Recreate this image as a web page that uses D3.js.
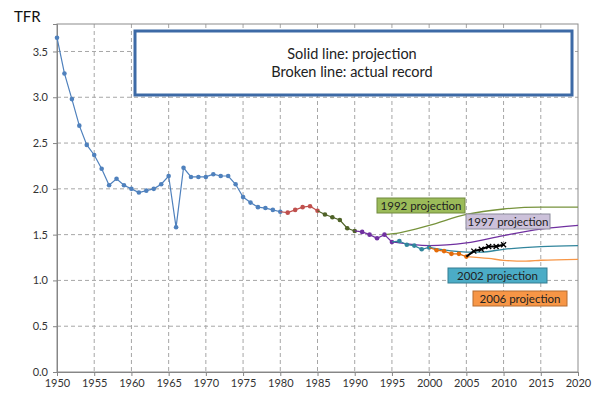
<!DOCTYPE html>
<html>
<head>
<meta charset="utf-8">
<script src="https://cdn.jsdelivr.net/npm/d3@7"></script>
<style>
  body { margin: 0; background: #fff; }
  svg { font-family: Lato, "Open Sans", sans-serif; }
</style>
</head>
<body>
<div id="chart"></div>
<script>
// actual TFR record, one value per year from 1950
var firstYear = 1950;
var actualTFR = [3.65, 3.26, 2.98, 2.69, 2.48, 2.37, 2.22, 2.04, 2.11, 2.04,
                 2.00, 1.96, 1.98, 2.00, 2.05, 2.14, 1.58, 2.23, 2.13, 2.13,
                 2.13, 2.16, 2.14, 2.14, 2.05, 1.91, 1.85, 1.80, 1.79, 1.77,
                 1.75, 1.74, 1.77, 1.80, 1.81, 1.76, 1.72, 1.69, 1.66, 1.57,
                 1.54, 1.53, 1.50, 1.46, 1.50, 1.42, 1.43, 1.39, 1.38, 1.34,
                 1.36, 1.33, 1.32, 1.29, 1.29, 1.26, 1.32, 1.34, 1.37, 1.37, 1.39];

// colour segments of the actual record
var segStarts = [1950, 1981, 1986, 1991, 1996, 2001, 2006];
var segEnds   = [1980, 1985, 1990, 1995, 2000, 2005, 2010];
var segColors = ["#4f81bd", "#c0504d", "#4f6228", "#7030a0", "#31859c", "#e46c0a", "#000000"];

// projections
var p1992Years = [1994, 1996, 2000, 2005, 2010, 2015, 2020];
var p1992TFR   = [1.50, 1.52, 1.60, 1.72, 1.78, 1.80, 1.80];
var p1997Years = [1995, 2000, 2005, 2010, 2015, 2020];
var p1997TFR   = [1.42, 1.38, 1.41, 1.49, 1.56, 1.60];
var p2002Years = [2000, 2005, 2007, 2010, 2015, 2020];
var p2002TFR   = [1.36, 1.31, 1.31, 1.34, 1.37, 1.38];
var p2006Years = [2005, 2008, 2010, 2013, 2015, 2020];
var p2006TFR   = [1.26, 1.24, 1.22, 1.21, 1.22, 1.23];

var projNames  = ["1992 projection", "1997 projection", "2002 projection", "2006 projection"];
var projLine   = ["#77933c", "#7030a0", "#31859c", "#f79646"];
var projFill   = ["#9bbb59", "#ccc1da", "#4bacc6", "#f79646"];
var projBorder = ["#71893f", "#8c8c9c", "#357d91", "#b66d31"];

var xTicks = d3.range(1950, 2021, 5);
var yTicks = [0, 0.5, 1.0, 1.5, 2.0, 2.5, 3.0, 3.5];

var svgWidth = 600, svgHeight = 396;
var margin = {top: 24, right: 22, bottom: 24, left: 57};
var width = svgWidth - margin.left - margin.right;
var height = svgHeight - margin.top - margin.bottom;

var svg = d3.select("#chart").append("svg")
  .attr("width", svgWidth)
  .attr("height", svgHeight);

var chartGroup = svg.append("g")
  .attr("transform", `translate(${margin.left}, ${margin.top})`);

var xScale = d3.scaleLinear().domain([1950, 2020]).range([0, width]);
var yScale = d3.scaleLinear().domain([0, 3.8]).range([height, 0]);

// grid
chartGroup.append("g").selectAll("line").data(xTicks.slice(1, -1)).enter()
  .append("line")
  .attr("x1", d => xScale(d)).attr("x2", d => xScale(d))
  .attr("y1", 0).attr("y2", height)
  .attr("stroke", "#a6a6a6").attr("stroke-dasharray", "4,3");
chartGroup.append("g").selectAll("line").data(yTicks.slice(1)).enter()
  .append("line")
  .attr("x1", 0).attr("x2", width)
  .attr("y1", d => yScale(d)).attr("y2", d => yScale(d))
  .attr("stroke", "#a6a6a6").attr("stroke-dasharray", "4,3");

// frame
chartGroup.append("rect")
  .attr("width", width).attr("height", height)
  .attr("fill", "none").attr("stroke", "#8c8c8c");

// axes
var bottomAxis = d3.axisBottom(xScale).tickValues(xTicks).tickFormat(d3.format("d")).tickSizeOuter(0).tickSize(4);
var leftAxis = d3.axisLeft(yScale).tickValues(yTicks).tickFormat(d3.format(".1f")).tickSizeOuter(0).tickSize(4);

var xAxis = chartGroup.append("g")
  .attr("transform", `translate(0, ${height})`)
  .call(bottomAxis);
var yAxis = chartGroup.append("g").call(leftAxis);

[xAxis, yAxis].forEach(function(ax) {
  ax.select(".domain").attr("stroke", "#868686");
  ax.selectAll(".tick line").attr("stroke", "#868686");
  ax.selectAll("text").attr("fill", "#333").attr("font-size", "11px")
    .attr("font-family", "Lato, sans-serif");
});
yAxis.selectAll("text").attr("x", -9);
xAxis.selectAll("text").attr("y", 7);

svg.append("text")
  .attr("x", 14).attr("y", 22)
  .attr("font-size", "15px").attr("fill", "#111")
  .text("TFR");

// projection lines
var projData = [
  p1992Years.map((y, i) => [y, p1992TFR[i]]),
  p1997Years.map((y, i) => [y, p1997TFR[i]]),
  p2002Years.map((y, i) => [y, p2002TFR[i]]),
  p2006Years.map((y, i) => [y, p2006TFR[i]])
];
var smooth = d3.line()
  .x(d => xScale(d[0]))
  .y(d => yScale(d[1]))
  .curve(d3.curveMonotoneX);

chartGroup.append("g").selectAll("path").data(projData).enter()
  .append("path")
  .attr("d", smooth)
  .attr("fill", "none")
  .attr("stroke", (d, i) => projLine[i])
  .attr("stroke-width", 1.3);

// actual record
var actual = actualTFR.map((v, i) => ({year: firstYear + i, tfr: v}));
var straight = d3.line().x(d => xScale(d.year)).y(d => yScale(d.tfr));

segStarts.forEach(function(s, k) {
  var from = Math.max(firstYear, s - 1);
  var seg = actual.filter(d => d.year >= from && d.year <= segEnds[k]);
  chartGroup.append("path")
    .datum(seg)
    .attr("d", straight)
    .attr("fill", "none")
    .attr("stroke", segColors[k])
    .attr("stroke-width", isBlack(k) ? 2 : 1.2);

  var pts = actual.filter(d => d.year >= s && d.year <= segEnds[k]);
  if (isBlack(k)) {
    chartGroup.append("g").selectAll("path").data(pts).enter()
      .append("path")
      .attr("transform", d => `translate(${xScale(d.year)}, ${yScale(d.tfr)})`)
      .attr("d", d3.symbol().type(d3.symbolX).size(18))
      .attr("fill", "none")
      .attr("stroke", "#000")
      .attr("stroke-width", 1.3);
  } else {
    chartGroup.append("g").selectAll("circle").data(pts).enter()
      .append("circle")
      .attr("cx", d => xScale(d.year))
      .attr("cy", d => yScale(d.tfr))
      .attr("r", 2.3)
      .attr("fill", segColors[k]);
  }
});

function isBlack(k) { return segColors[k] === "#000000"; }

// projection label boxes
var labelX = [377, 466, 448, 473];
var labelY = [198, 214, 268, 291];
var labelW = [88, 84, 99, 94];
var labelG = svg.append("g").selectAll("g").data(projNames).enter()
  .append("g")
  .attr("transform", (d, i) => `translate(${labelX[i]}, ${labelY[i]})`);
labelG.append("rect")
  .attr("width", (d, i) => labelW[i]).attr("height", 15)
  .attr("fill", (d, i) => projFill[i])
  .attr("stroke", (d, i) => projBorder[i]);
labelG.append("text")
  .attr("x", (d, i) => labelW[i] / 2).attr("y", 11.5)
  .attr("text-anchor", "middle")
  .attr("font-size", "11.5px").attr("fill", "#222")
  .text(d => d);

// note box
svg.append("rect")
  .attr("x", 135).attr("y", 31).attr("width", 437).attr("height", 64)
  .attr("fill", "#fff").attr("stroke", "#3d6aa6").attr("stroke-width", 3);
svg.append("text")
  .attr("x", 352).attr("y", 59).attr("text-anchor", "middle")
  .attr("font-size", "14.5px").attr("fill", "#222")
  .text("Solid line: projection");
svg.append("text")
  .attr("x", 352).attr("y", 77).attr("text-anchor", "middle")
  .attr("font-size", "14.5px").attr("fill", "#222")
  .text("Broken line: actual record");
</script>
</body>
</html>
